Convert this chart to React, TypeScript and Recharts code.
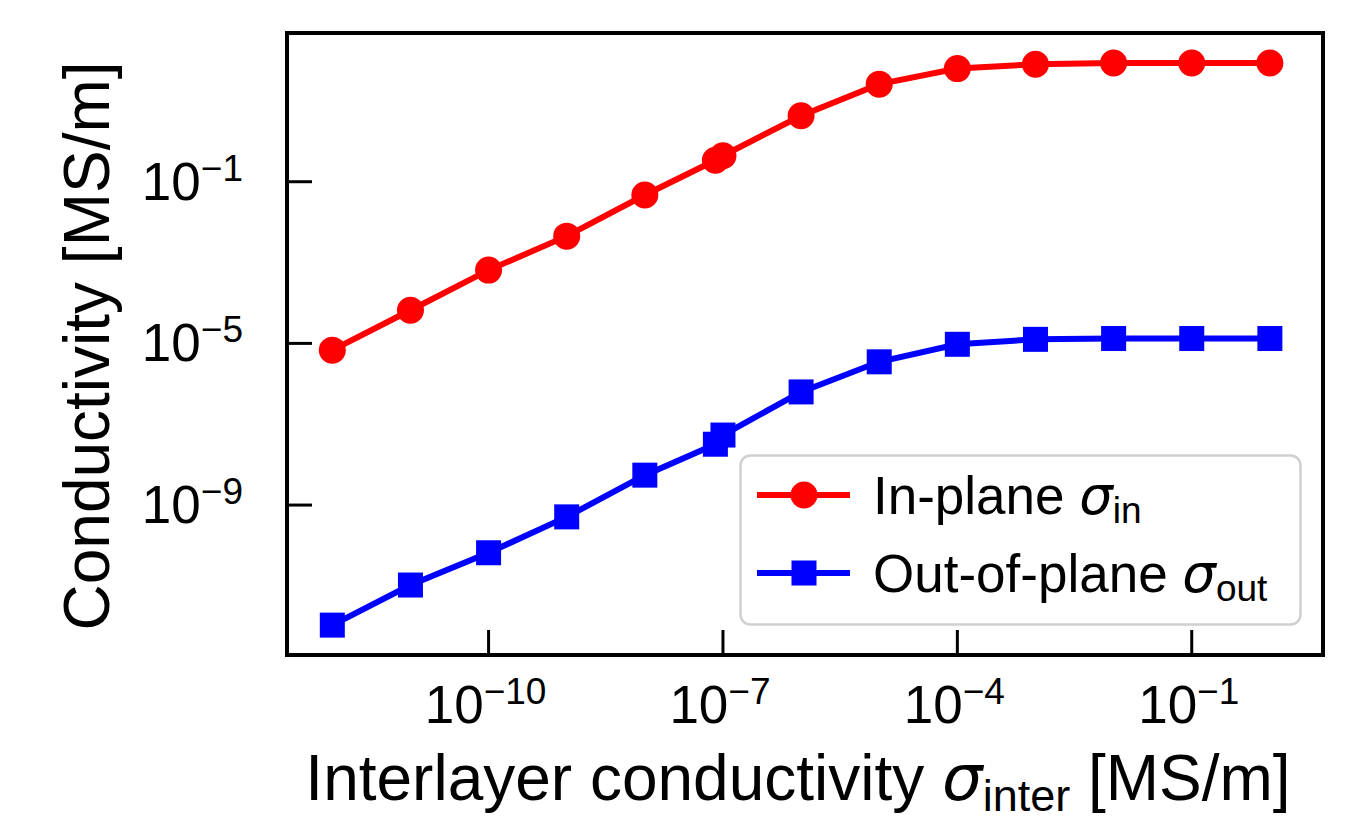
import React from 'react';
import { LineChart, Line, XAxis, YAxis, Legend } from 'recharts';

const xValues = [1e-12, 1e-11, 1e-10, 1e-9, 1e-8, 8e-8, 1e-7, 1e-6, 1e-5, 1e-4, 1e-3, 1e-2, 1e-1, 1];
const inPlane = [6.8e-6, 6.6e-5, 6.5e-4, 4.5e-3, 4.7e-2, 0.34, 0.44, 4.3, 26, 63, 81, 87, 87, 87];
const outOfPlane = [1.07e-12, 1.05e-11, 6.6e-11, 5.1e-10, 5.5e-9, 3.2e-8, 5.4e-8, 6.3e-7, 3.5e-6, 9.5e-6, 1.26e-5, 1.32e-5, 1.32e-5, 1.32e-5];
const xTicks = [1e-10, 1e-7, 1e-4, 1e-1];
const yTicks = [1e-9, 1e-5, 1e-1];
const seriesNames = ['In-plane ', 'Out-of-plane '];
const seriesSubs = ['in', 'out'];

const data = xValues.map((x, i) => ({ x, inPlane: inPlane[i], outOfPlane: outOfPlane[i] }));

const X_DOMAIN = [Math.pow(10, -12.58), Math.pow(10, 0.68)];
const Y_DOMAIN = [Math.pow(10, -12.71), Math.pow(10, 2.68)];

const SANS = '"Liberation Sans", Arial, Helvetica, sans-serif';
const SIGMA_FONT = '"DejaVu Sans", sans-serif';

const AXIS_LINE = { stroke: '#000', strokeWidth: 4, strokeLinecap: 'square' as const };

const expOf = (v: number) => Math.round(Math.log10(v));

const PowerLabel = ({ x, y, anchor, exp }: any) => (
  <text x={x} y={y} textAnchor={anchor} fontFamily={SANS} fontSize={53} fill="#000">
    10
    <tspan fontSize={37} dy={-19}>{exp < 0 ? '\u2212' + Math.abs(exp) : String(exp)}</tspan>
  </text>
);

const XTick = (props: any) => {
  const { x, y, payload } = props;
  return (
    <g>
      <line x1={x} y1={y} x2={x} y2={y - 25} stroke="#000" strokeWidth={3} />
      <PowerLabel x={x - 3} y={y + 68} anchor="middle" exp={expOf(payload.value)} />
    </g>
  );
};

const YTick = (props: any) => {
  const { x, y, payload } = props;
  return (
    <g>
      <line x1={x} y1={y} x2={x + 25} y2={y} stroke="#000" strokeWidth={3} />
      <PowerLabel x={x - 44} y={y + 18} anchor="end" exp={expOf(payload.value)} />
    </g>
  );
};

const XLabel = (p: any) => {
  const vb = p.viewBox || { x: 287, y: 655, width: 1036, height: 168 };
  return (
    <text x={vb.x + vb.width / 2 - 7} y={vb.y + 145} textAnchor="middle" fontFamily={SANS} fontSize={64} fill="#000">
      Interlayer conductivity{' '}
      <tspan fontFamily={SIGMA_FONT} fontStyle="italic">σ</tspan>
      <tspan fontSize={45} dy={11}>inter</tspan>
      <tspan dy={-11}> [MS/m]</tspan>
    </text>
  );
};

const YLabel = (p: any) => {
  const vb = p.viewBox || { x: 0, y: 33, width: 287, height: 622 };
  const cx = 109;
  const cy = vb.y + vb.height / 2 + 2;
  return (
    <text x={cx} y={cy} transform={`rotate(-90, ${cx}, ${cy})`} textAnchor="middle" fontFamily={SANS} fontSize={64} fill="#000">
      Conductivity [MS/m]
    </text>
  );
};

const SquareDot = (props: any) => {
  const { cx, cy, index } = props;
  if (cx == null || cy == null) return <g key={index} />;
  return <rect key={index} x={cx - 12.5} y={cy - 12.5} width={25} height={25} fill="#0000ff" />;
};

const LegendBox = () => {
  const colors = ['#ff0000', '#0000ff'];
  const rows = [41, 119];
  return (
    <svg width={565} height={174} style={{ display: 'block' }}>
      <rect x={1.5} y={1.5} width={560} height={169} rx={10} ry={10} fill="#ffffff" fillOpacity={0.8} stroke="#d0d0d0" strokeWidth={2.5} />
      {rows.map((ry, i) => (
        <g key={i}>
          <line x1={18} y1={ry} x2={111} y2={ry} stroke={colors[i]} strokeWidth={6} />
          {i === 0 ? (
            <circle cx={65} cy={ry} r={13.5} fill={colors[i]} />
          ) : (
            <rect x={65 - 12.5} y={ry - 12.5} width={25} height={25} fill={colors[i]} />
          )}
          <text x={134} y={ry + 19} fontFamily={SANS} fontSize={53} fill="#000">
            {seriesNames[i]}
            <tspan fontFamily={SIGMA_FONT} fontStyle="italic">σ</tspan>
            <tspan fontSize={37} dy={9}>{seriesSubs[i]}</tspan>
          </text>
        </g>
      ))}
    </svg>
  );
};

export default function App() {
  return (
    <div style={{ position: 'absolute', left: 0, top: 0, width: 1367, height: 823, background: '#fff' }}>
      <LineChart width={1367} height={823} data={data} margin={{ top: 32, right: 43, bottom: 0, left: 0 }}>
        <XAxis
          dataKey="x"
          type="number"
          scale="log"
          domain={X_DOMAIN}
          allowDataOverflow
          ticks={xTicks}
          height={168}
          tickSize={0}
          tickMargin={0}
          tickLine={false}
          axisLine={AXIS_LINE}
          tick={<XTick />}
          interval={0}
          label={(p: any) => <XLabel {...p} />}
        />
        <XAxis
          xAxisId="top"
          orientation="top"
          dataKey="x"
          type="number"
          scale="log"
          domain={X_DOMAIN}
          allowDataOverflow
          height={1}
          ticks={xTicks}
          tick={false}
          tickLine={false}
          axisLine={AXIS_LINE}
        />
        <YAxis
          type="number"
          scale="log"
          domain={Y_DOMAIN}
          allowDataOverflow
          ticks={yTicks}
          width={287}
          tickSize={0}
          tickMargin={0}
          tickLine={false}
          axisLine={AXIS_LINE}
          tick={<YTick />}
          interval={0}
          label={(p: any) => <YLabel {...p} />}
        />
        <YAxis
          yAxisId="right"
          orientation="right"
          type="number"
          scale="log"
          domain={Y_DOMAIN}
          allowDataOverflow
          width={1}
          ticks={yTicks}
          tick={false}
          tickLine={false}
          axisLine={AXIS_LINE}
        />
        <Line
          dataKey="inPlane"
          type="linear"
          stroke="#ff0000"
          strokeWidth={6}
          dot={{ r: 13.5, fill: '#ff0000', stroke: 'none', strokeWidth: 0 }}
          activeDot={false}
          isAnimationActive={false}
        />
        <Line
          dataKey="outOfPlane"
          type="linear"
          stroke="#0000ff"
          strokeWidth={6}
          dot={(p: any) => <SquareDot {...p} />}
          activeDot={false}
          isAnimationActive={false}
        />
        <Legend
          layout="vertical"
          align="center"
          verticalAlign="middle"
          wrapperStyle={{ position: 'absolute', left: 739, top: 454, width: 565, height: 174 }}
          content={() => <LegendBox />}
        />
      </LineChart>
    </div>
  );
}
